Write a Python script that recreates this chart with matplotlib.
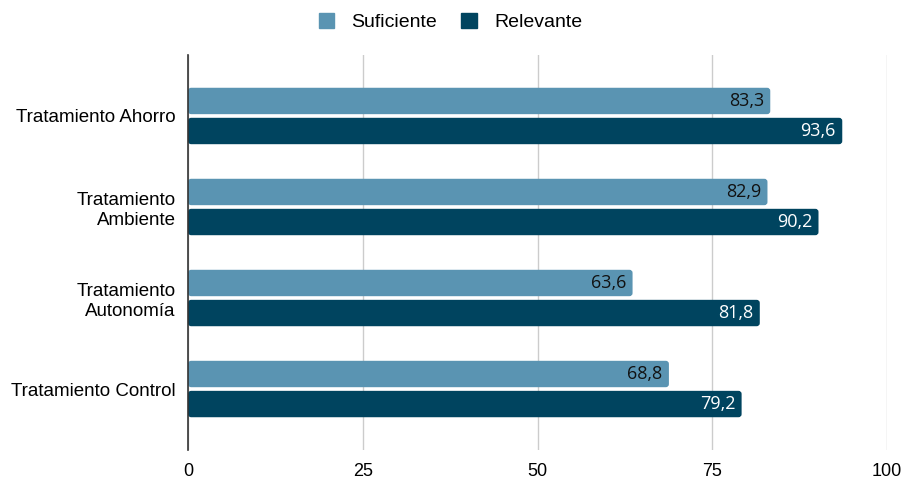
import matplotlib.pyplot as plt
from matplotlib.patches import FancyBboxPatch
import numpy as np

plt.rcParams['font.family'] = ['Liberation Sans', 'DejaVu Sans']

categorias = ['Tratamiento Ahorro', 'Tratamiento\nAmbiente', 'Tratamiento\nAutonomía', 'Tratamiento Control']
suficiente = [83.3, 82.9, 63.6, 68.8]
relevante = [93.6, 90.2, 81.8, 79.2]
ticks = [0, 25, 50, 75, 100]

c_suf = '#5a94b2'
c_rel = '#00445f'

fig = plt.figure(figsize=(9.01, 4.78), dpi=100)
ax = fig.add_axes([188/901, 1 - 450/478, 699/901, 395/478])

y = np.arange(len(categorias))
h = 0.29
b1 = ax.barh(y - 0.165, suficiente, height=h, color=c_suf, label='Suficiente', zorder=3)
b2 = ax.barh(y + 0.165, relevante, height=h, color=c_rel, label='Relevante', zorder=3)

# rounded corners: swap each rectangle for a rounded box of the same size
for bars in (b1, b2):
    for r in bars:
        x0, y0 = r.get_x(), r.get_y()
        w, hh = r.get_width(), r.get_height()
        box = FancyBboxPatch((x0, y0), w, hh, boxstyle='round,pad=0,rounding_size=0.45',
                             mutation_aspect=0.075, facecolor=r.get_facecolor(),
                             edgecolor='none', zorder=3)
        ax.add_patch(box)
        r.set_visible(False)

for i in range(len(categorias)):
    ax.text(suficiente[i] - 0.9, y[i] - 0.165, f'{suficiente[i]:.1f}'.replace('.', ','),
            ha='right', va='center', fontsize=13, color='#111111', zorder=4,
            family=['Open Sans', 'DejaVu Sans'])
    ax.text(relevante[i] - 0.9, y[i] + 0.165, f'{relevante[i]:.1f}'.replace('.', ','),
            ha='right', va='center', fontsize=13, color='white', zorder=4,
            family=['Open Sans', 'DejaVu Sans'])

ax.set_xlim(0, 100)
ax.set_ylim(3.67, -0.67)
ax.set_xticks(ticks)
ax.set_xticklabels([str(t) for t in ticks], fontsize=13)
ax.set_yticks(y)
ax.set_yticklabels(categorias, fontsize=13.5)
ax.tick_params(length=0, pad=9)
ax.grid(axis='x', color='#cccccc', linewidth=1, zorder=0)
for s in ['top', 'right', 'bottom']:
    ax.spines[s].set_visible(False)
ax.spines['left'].set_color('#333333')
ax.spines['left'].set_linewidth(1.2)
ax.spines['left'].set_zorder(5)

h1 = plt.Rectangle((0, 0), 1, 1, color=c_suf)
h2 = plt.Rectangle((0, 0), 1, 1, color=c_rel)
fig.legend(handles=[h1, h2], labels=['Suficiente', 'Relevante'], loc='center',
           bbox_to_anchor=(0.5, 1 - 22/478), ncol=2, frameon=False, fontsize=14,
           handlelength=0.78, handleheight=0.78, columnspacing=1.25, handletextpad=0.9)

fig.savefig('out.png', dpi=100)
